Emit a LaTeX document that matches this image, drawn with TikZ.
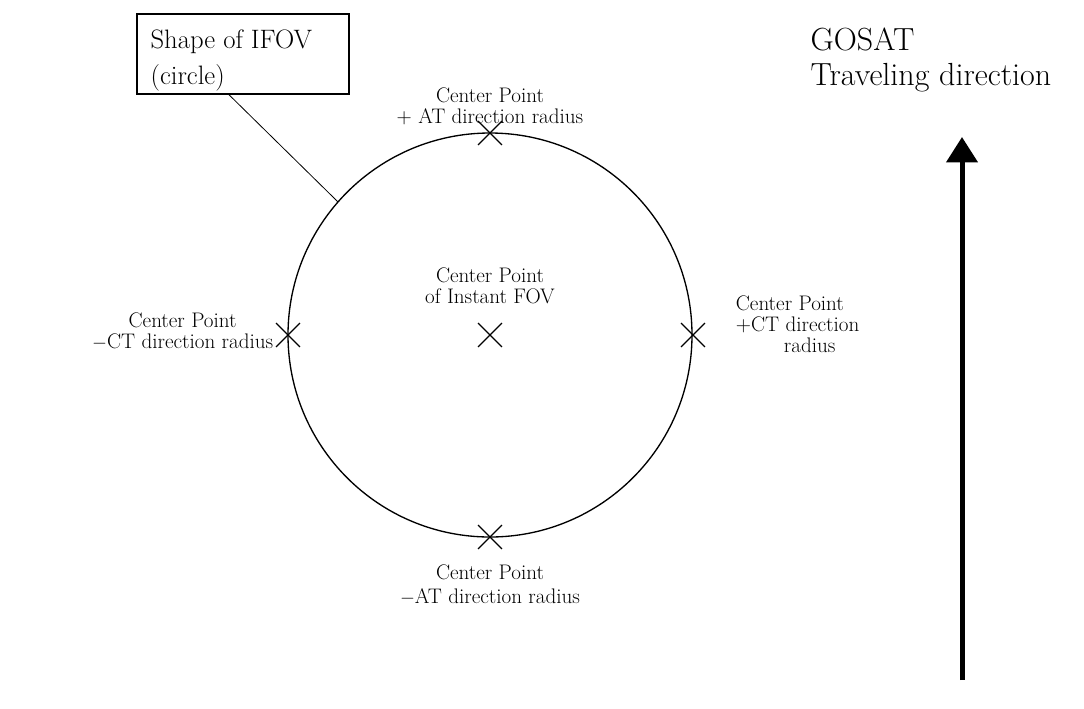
\documentclass[tikz,border=0pt]{standalone}
\usetikzlibrary{positioning,calc,arrows.meta,shapes.misc}
\tikzset{
  xmark/.style={cross out, draw, line width=0.9pt, minimum size=17pt, inner sep=0pt},
  ptlabel/.style={align=center, font=\fontsize{15.8}{15.8}\selectfont, inner sep=1pt},
  biglabel/.style={align=left, font=\fontsize{20}{27}\selectfont},
}
\begin{document}
\begin{tikzpicture}[x=0.75pt, y=-0.75pt]
\useasboundingbox (0,0) rectangle (1084,708);
%%% field of view %%%
\coordinate (c) at (490,335);
\draw[line width=1pt] (c) circle[radius=202];

\node[xmark] (xctr) at (c) {};
\node[xmark] (xtop) at (490,133) {};
\node[xmark] (xbot) at (490,537) {};
\node[xmark] (xleft) at (288,335) {};
\node[xmark] (xright) at (693,335) {};

%% point labels
\node[ptlabel, above=13pt of xctr] (lctr) {Center Point\\of Instant FOV};
\node[ptlabel, above=-4pt of xtop] (ltop) {Center Point\\+ AT direction radius};
\node[ptlabel, below=11pt of xbot, font=\fontsize{15.8}{18}\selectfont] (lbot) {Center Point\\$-$AT direction radius};
\node[ptlabel, left=1pt of xleft, yshift=3pt] (lleft) {Center Point\\$-$CT direction radius};
\node[ptlabel, align=left, right=22pt of xright, yshift=8pt] (lright) {Center Point\\+CT direction\\\hspace*{36pt}radius};

%% IFOV box
\node[draw, line width=1pt, minimum width=159pt, minimum height=60pt] (ifovbox) at (243,54) {};
\node[biglabel, anchor=north west, inner sep=0pt] (ifovtext) at ($(ifovbox.north west)+(14,16)$) {Shape of IFOV\\(circle)};
\draw[line width=0.6pt] ($(ifovbox.south west)!0.434!(ifovbox.south east)$) -- ($(c)+(221.2:202)$);

%% traveling direction
\node[biglabel, font=\fontsize{24}{26.5}\selectfont, anchor=north west] (gosat) at (806,23) {GOSAT\\Traveling direction};
\coordinate (tail) at (962,680);
\coordinate (head) at (962,137);
\draw[line width=3.75pt, -{Triangle[width=23pt,length=19pt]}] (tail) -- (head);

\end{tikzpicture}
\end{document}
